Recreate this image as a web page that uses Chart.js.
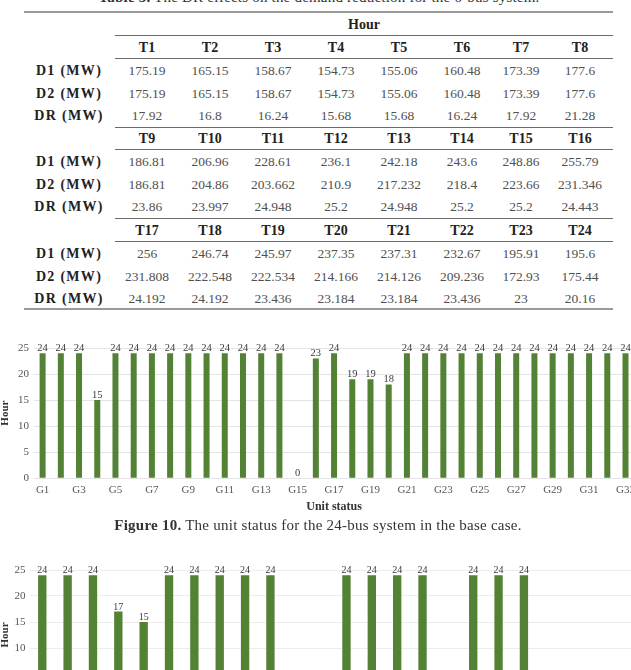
<!DOCTYPE html>
<html><head><meta charset="utf-8">
<script src="https://cdn.jsdelivr.net/npm/chart.js@4.4.0/dist/chart.umd.min.js"></script>
<style>
html,body{margin:0;padding:0;background:#fff;overflow:hidden;}
#page{position:relative;width:631px;height:670px;overflow:hidden;font-family:"Liberation Serif",serif;}
.t{position:absolute;white-space:nowrap;text-align:center;height:20px;line-height:20px;}
.num{font-size:13.5px;color:#505050;}
.hdr{font-size:14px;font-weight:bold;color:#222;}
.lab{font-size:14px;font-weight:bold;color:#222;letter-spacing:1.3px;}
.rule{position:absolute;}
canvas{position:absolute;left:0;}
#tabTitle{position:absolute;left:0;width:638px;text-align:center;top:-10px;font-size:15px;line-height:15px;letter-spacing:0.2px;color:#333;white-space:nowrap;}
#cap{position:absolute;left:0;width:636px;text-align:center;top:517px;font-size:15px;line-height:17px;letter-spacing:0.25px;color:#333;white-space:nowrap;}
</style></head><body><div id="page">
<div id="tabTitle"><b>Table 5.</b> The DR effects on the demand reduction for the 6-bus system.</div>
<canvas id="c1" width="640" height="190" style="top:330px"></canvas>
<div id="cap"><b>Figure 10.</b> The unit status for the 24-bus system in the base case.</div>
<canvas id="c2" width="640" height="190" style="top:550px"></canvas>
</div>
<script>
// ---------- Table data ----------
const hours = ["T1","T2","T3","T4","T5","T6","T7","T8","T9","T10","T11","T12","T13","T14","T15","T16","T17","T18","T19","T20","T21","T22","T23","T24"];
const rowNames = ["D1 (MW)","D2 (MW)","DR (MW)"];
const d1 = [175.19,165.15,158.67,154.73,155.06,160.48,173.39,177.6,186.81,206.96,228.61,236.1,242.18,243.6,248.86,255.79,256,246.74,245.97,237.35,237.31,232.67,195.91,195.6];
const d2 = [175.19,165.15,158.67,154.73,155.06,160.48,173.39,177.6,186.81,204.86,203.662,210.9,217.232,218.4,223.66,231.346,231.808,222.548,222.534,214.166,214.126,209.236,172.93,175.44];
const dr = [17.92,16.8,16.24,15.68,15.68,16.24,17.92,21.28,23.86,23.997,24.948,25.2,24.948,25.2,25.2,24.443,24.192,24.192,23.436,23.184,23.184,23.436,23,20.16];

// ---------- Figure 10 data ----------
const units1 = ["G1","G2","G3","G4","G5","G6","G7","G8","G9","G10","G11","G12","G13","G14","G15","G16","G17","G18","G19","G20","G21","G22","G23","G24","G25","G26","G27","G28","G29","G30","G31","G32","G33"];
const status1 = [24,24,24,15,24,24,24,24,24,24,24,24,24,24,0,23,24,19,19,18,24,24,24,24,24,24,24,24,24,24,24,24,24];

// ---------- Next figure (partly visible) ----------
const units2 = ["G1","G2","G3","G4","G5","G6","G7","G8","G9","G10","G11","G12","G13","G14","G15","G16","G17","G18","G19","G20","G21","G22","G23","G24"];
const status2 = [24,24,24,17,15,24,24,24,24,24,0,0,24,24,24,24,0,24,24,24,0,0,0,0];

const yTicks = [0,5,10,15,20,25];

// ---------- Build table ----------
const page = document.getElementById('page');
const colX = [147,210,273,336,399,462,521,580];
const labelX = 69;
function addText(txt, cx, cy, cls){
  const d = document.createElement('div');
  d.className = 't ' + cls;
  d.textContent = txt;
  d.style.left = (cx - 50) + 'px';
  d.style.width = '100px';
  d.style.top = (cy - 10) + 'px';
  page.appendChild(d);
}
function addRule(x1, x2, y, h, col){
  const d = document.createElement('div');
  d.className = 'rule';
  d.style.left = x1 + 'px'; d.style.width = (x2 - x1) + 'px';
  d.style.top = y + 'px'; d.style.height = h + 'px'; d.style.background = col;
  page.appendChild(d);
}
addRule(24, 613, 11, 2, '#9a9a9a');
addText('Hour', 364, 25, 'hdr');
addRule(115, 613, 35, 1, '#6a6a6a');
const blockY = [48, 139, 231];
const series = [d1, d2, dr];
blockY.forEach((hy, b) => {
  for (let c = 0; c < 8; c++) addText(hours[b*8 + c], colX[c], hy, 'hdr');
  addRule(115, 613, hy + 10, 1, '#6a6a6a');
  const rowOff = [23, 46, 68];
  series.forEach((arr, r) => {
    addText(rowNames[r], labelX, hy + rowOff[r], 'lab');
    for (let c = 0; c < 8; c++) addText(String(arr[b*8 + c]), colX[c], hy + rowOff[r], 'num');
  });
  if (b < 2) addRule(115, 613, hy + 79, 1, '#6a6a6a');
  else addRule(24, 613, hy + 77, 2, '#9a9a9a');
});

// ---------- Charts ----------
const valueLabels = {
  id: 'valueLabels',
  afterDatasetsDraw(chart, args, opts){
    const ctx = chart.ctx;
    const meta = chart.getDatasetMeta(0);
    const data = chart.data.datasets[0].data;
    ctx.save();
    ctx.font = opts.font;
    ctx.fillStyle = opts.color;
    ctx.textAlign = 'center';
    ctx.textBaseline = 'alphabetic';
    meta.data.forEach((bar, i) => ctx.fillText(String(data[i]), bar.x, bar.y - opts.offset));
    ctx.restore();
  }
};

function makeChart(id, labels, values, g){
  return new Chart(document.getElementById(id), {
    type: 'bar',
    data: { labels: labels, datasets: [{ data: values, backgroundColor: '#548235', borderWidth: 0,
      barPercentage: 0.33, categoryPercentage: 1 }] },
    options: {
      responsive: false, animation: false, devicePixelRatio: 1,
      layout: { padding: { top: g.padTop, right: g.padRight, left: 0, bottom: 0 } },
      plugins: { legend: { display: false }, tooltip: { enabled: false },
        valueLabels: { font: g.labelFont, color: '#3a3a3a', offset: 2 } },
      scales: {
        x: {
          grid: { display: false, drawTicks: false }, border: { display: false },
          ticks: { autoSkip: false, maxRotation: 0, minRotation: 0, padding: 5, color: '#555',
            font: { family: 'Liberation Serif', size: 11 },
            callback: (v, i) => (i % 2 === 0 ? labels[i] : '') },
          title: { display: true, text: 'Unit status', color: '#333',
            font: { family: 'Liberation Serif', size: 12, weight: 'bold' }, padding: { top: 0, bottom: 6 } },
          afterFit: s => { s.height = g.xHeight; }
        },
        y: {
          min: 0, max: 25,
          afterBuildTicks: s => { s.ticks = yTicks.map(v => ({ value: v })); },
          grid: { color: g.gridColor, drawTicks: false, lineWidth: 1 }, border: { display: false },
          ticks: { padding: g.yPad, color: '#555', font: { family: 'Liberation Serif', size: 11 } },
          title: { display: true, text: 'Hour', color: '#333',
            font: { family: 'Liberation Serif', size: 11, weight: 'bold', lineHeight: 1 }, padding: { top: 0, bottom: 0 } },
          afterFit: s => { s.width = g.yWidth; }
        }
      }
    },
    plugins: [valueLabels]
  });
}

makeChart('c1', units1, status1, { padTop: 18, padRight: 1.5, xHeight: 41.7, yWidth: 33.5, yPad: 4.5,
  gridColor: '#e4e4e4', labelFont: '10.5px "Liberation Serif"' });
makeChart('c2', units2, status2, { padTop: 20, padRight: 2, xHeight: 40, yWidth: 29.6, yPad: 4,
  gridColor: '#ececec', labelFont: '10px "Liberation Serif"' });
</script>
</body></html>
